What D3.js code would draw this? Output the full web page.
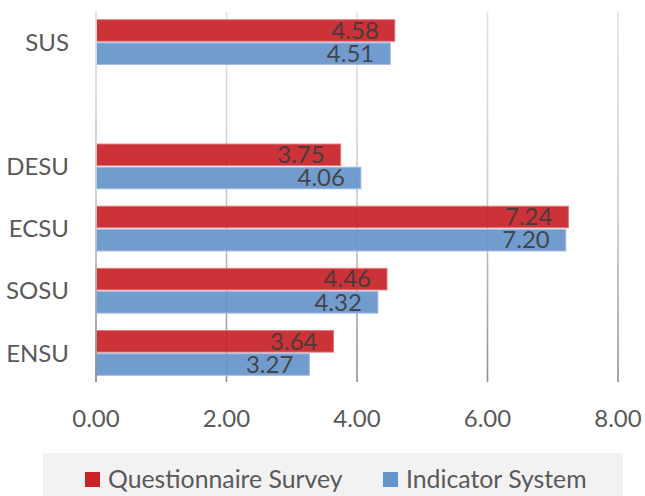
<!DOCTYPE html>
<html>
<head>
<meta charset="utf-8">
<script src="https://cdn.jsdelivr.net/npm/d3@7"></script>
<style>
  html, body { margin: 0; padding: 0; background: #ffffff; }
  svg { display: block; }
</style>
</head>
<body>
<svg id="chart" width="645" height="496"></svg>
<script>
const categories = ["SUS", "", "DESU", "ECSU", "SOSU", "ENSU"];
const seriesNames = ["Questionnaire Survey", "Indicator System"];
const questionnaire = [4.58, null, 3.75, 7.24, 4.46, 3.64];
const indicator = [4.51, null, 4.06, 7.20, 4.32, 3.27];
const xTicks = [0, 2, 4, 6, 8];
const colors = ["#c7242a", "#6795ca"];
const strokes = ["#e8787c", "#9dbde3"];

const svg = d3.select("#chart");
const font = "Lato, 'Open Sans', sans-serif";

const x = d3.scaleLinear().domain([0, 8]).range([96, 618]);
const y = d3.scaleBand().domain(d3.range(categories.length)).range([11, 384])
  .paddingInner(0.28).paddingOuter(0.14);
const ySub = d3.scaleBand().domain([0, 1]).range([0, y.bandwidth()]).paddingInner(0.07);

// gradient for gridlines
const defs = svg.append("defs");
const grad = defs.append("linearGradient").attr("id", "gridGrad")
  .attr("gradientUnits", "userSpaceOnUse")
  .attr("x1", 0).attr("y1", 12).attr("x2", 0).attr("y2", 382);
grad.append("stop").attr("offset", "0%").attr("stop-color", "#e2e2e2");
grad.append("stop").attr("offset", "55%").attr("stop-color", "#c8c8c8");
grad.append("stop").attr("offset", "100%").attr("stop-color", "#8e8e8e");

// gridlines
svg.append("g").selectAll("line").data(xTicks.slice(1)).join("line")
  .attr("x1", d => x(d)).attr("x2", d => x(d))
  .attr("y1", 12).attr("y2", 382)
  .attr("stroke", "url(#gridGrad)").attr("stroke-width", 1.6);

// bars
const data = [];
categories.forEach((c, i) => {
  [questionnaire[i], indicator[i]].forEach((v, s) => {
    if (v != null) data.push({ i, s, v });
  });
});

svg.append("g").selectAll("rect").data(data).join("rect")
  .attr("x", x(0))
  .attr("y", d => y(d.i) + ySub(d.s))
  .attr("width", d => x(d.v) - x(0))
  .attr("height", ySub.bandwidth())
  .attr("fill", d => colors[d.s])
  .attr("fill-opacity", 0.93)
  .attr("stroke", d => strokes[d.s])
  .attr("stroke-width", 1);

// zero axis line
svg.append("line")
  .attr("x1", x(0)).attr("x2", x(0)).attr("y1", 12).attr("y2", 382)
  .attr("stroke", "url(#gridGrad)").attr("stroke-width", 1.8);

// value labels
svg.append("g").selectAll("text").data(data).join("text")
  .attr("x", d => x(d.v) - 16)
  .attr("y", d => y(d.i) + ySub(d.s) + ySub.bandwidth() - 2.5)
  .attr("text-anchor", "end")
  .attr("font-family", font)
  .attr("font-size", 24)
  .attr("fill", "#3a3a3a")
  .attr("fill-opacity", 0.9)
  .text(d => d.v.toFixed(2));

// category labels
svg.append("g").selectAll("text").data(categories).join("text")
  .attr("x", 69)
  .attr("y", (d, i) => y(i) + y.bandwidth() / 2)
  .attr("dy", "0.36em")
  .attr("text-anchor", "end")
  .attr("font-family", font)
  .attr("font-size", 24)
  .attr("fill", "#595959")
  .text(d => d);

// x tick labels
svg.append("g").selectAll("text").data(xTicks).join("text")
  .attr("x", d => x(d))
  .attr("y", 427)
  .attr("text-anchor", "middle")
  .attr("font-family", font)
  .attr("font-size", 24)
  .attr("fill", "#595959")
  .text(d => d.toFixed(2));

// legend
svg.append("rect").attr("x", 43).attr("y", 453).attr("width", 580).attr("height", 43)
  .attr("fill", "#f2f2f2");
const legendX = [85, 383];
const lg = svg.append("g").selectAll("g").data(seriesNames).join("g")
  .attr("transform", (d, i) => `translate(${legendX[i]},472)`);
lg.append("rect").attr("width", 15).attr("height", 15)
  .attr("fill", (d, i) => colors[i]);
lg.append("text").attr("x", 23).attr("y", 15.5)
  .attr("font-family", font).attr("font-size", 24.8)
  .attr("fill", "#595959")
  .text(d => d);
</script>
</body>
</html>
